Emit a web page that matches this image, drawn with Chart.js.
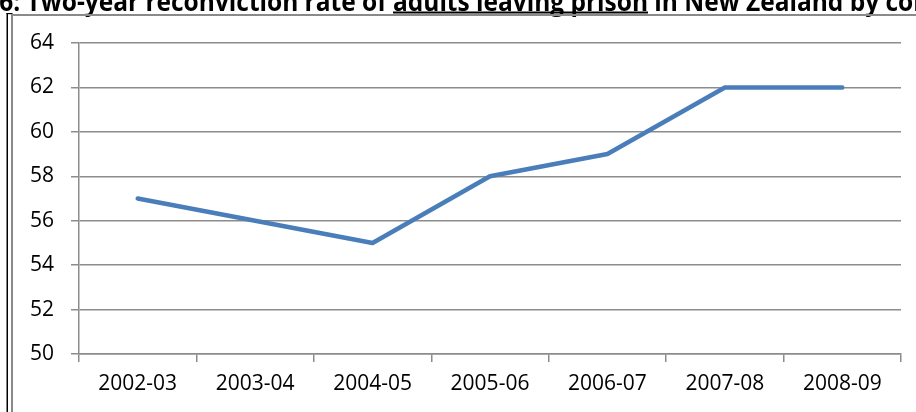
<!DOCTYPE html>
<html>
<head>
<meta charset="utf-8">
<script src="https://cdn.jsdelivr.net/npm/chart.js@4.4.1/dist/chart.umd.min.js"></script>
<style>
  html, body { margin: 0; padding: 0; background: #ffffff; }
  #wrap { position: relative; width: 916px; height: 412px; overflow: hidden; }
</style>
</head>
<body>
<div id="wrap"><canvas id="canvas__reconviction"></canvas></div>
<script>
"use strict"

// cohort years along the bottom
var arrCohorts = ["2002-03","2003-04","2004-05","2005-06","2006-07","2007-08","2008-09"];

// two-year reconviction rate (%)
var arrRates = [57, 56, 55, 58, 59, 62, 62];

// y axis range and step
var arrYRange = [50, 64];
var intYStep = 2;

// the title, cut at the top of the picture; middle part is underlined
var arrTitleParts = ["Figure 6: Two-year reconviction rate of ", "adults leaving prison", " in New Zealand by cohort"];

var strFont = '"Open Sans", "DejaVu Sans", sans-serif';
var COLOR_LINE = "#4a7ebb";
var COLOR_GRID = "#8c8c8c";

/*
Draws the clipped title and the frame lines around the chart.
*/
var framePlugin = {
    id: "frame",
    afterDraw: function(chart){
        var ctx = chart.ctx;
        ctx.save();
        // title: a tall font squeezed sideways so the underlined words
        // sit where they do in the picture (the original font is narrower)
        ctx.font = 'bold 26px ' + strFont;
        var wFirst = ctx.measureText(arrTitleParts[0]).width;
        var wMid = ctx.measureText(arrTitleParts[1]).width;
        var k = 255 / wMid;
        var xMid = 393;
        var baseY = 10.5;
        ctx.fillStyle = "#000";
        ctx.textBaseline = "alphabetic";
        ctx.save();
        ctx.translate(xMid, 0);
        ctx.scale(k, 1);
        ctx.fillText(arrTitleParts[0], -wFirst, baseY);
        ctx.fillText(arrTitleParts[1], 0, baseY);
        ctx.fillText(arrTitleParts[2], wMid, baseY);
        ctx.restore();
        ctx.fillRect(xMid, 11.5, 255, 2);

        // frame: black outer line, gray inner line and gray top
        ctx.fillStyle = "#000";
        ctx.fillRect(6.5, 13, 1.5, 412);
        ctx.fillRect(6.5, 13, 6, 1.2);
        ctx.fillStyle = "#8a8a8a";
        ctx.fillRect(11, 14, 2, 412);
        ctx.fillRect(11, 14, 916, 2);
        ctx.restore();
    }
};

function createChart(){
    new Chart("canvas__reconviction", {
        type: "line",
        data: {
            labels: arrCohorts,
            datasets: [{
                data: arrRates,
                borderColor: COLOR_LINE,
                backgroundColor: COLOR_LINE,
                borderWidth: 4.5,
                borderCapStyle: "round",
                borderJoinStyle: "round",
                pointRadius: 0,
                tension: 0
            }]
        },
        plugins: [framePlugin],
        options: {
            responsive: false,
            animation: false,
            events: [],
            layout: { padding: { left: 0, right: 15, top: 43, bottom: 0 } },
            plugins: {
                legend: { display: false },
                title: { display: false },
                tooltip: { enabled: false }
            },
            scales: {
                x: {
                    type: "category",
                    offset: true,
                    grid: {
                        offset: true,
                        drawOnChartArea: false,
                        drawTicks: true,
                        tickLength: 8,
                        color: COLOR_GRID,
                        lineWidth: 1.5
                    },
                    border: { color: COLOR_GRID, width: 1.5 },
                    ticks: {
                        color: "#000",
                        font: { family: strFont, size: 21 },
                        padding: 9,
                        maxRotation: 0,
                        autoSkip: false
                    },
                    afterFit: function(scale){ scale.height = 58; }
                },
                y: {
                    min: arrYRange[0],
                    max: arrYRange[1],
                    grid: {
                        color: COLOR_GRID,
                        lineWidth: 1.5,
                        tickLength: 8
                    },
                    border: { color: COLOR_GRID, width: 1.5 },
                    ticks: {
                        stepSize: intYStep,
                        color: "#000",
                        font: { family: strFont, size: 21 },
                        padding: 17
                    },
                    afterFit: function(scale){ scale.width = 79; }
                }
            }
        }
    });
}

var canvas = document.getElementById("canvas__reconviction");
canvas.width = 916;
canvas.height = 412;
canvas.style.width = "916px";
canvas.style.height = "412px";

Promise.all([
    document.fonts.load('21px "Open Sans"'),
    document.fonts.load('bold 26px "Open Sans"')
]).then(createChart, createChart);
</script>
</body>
</html>
